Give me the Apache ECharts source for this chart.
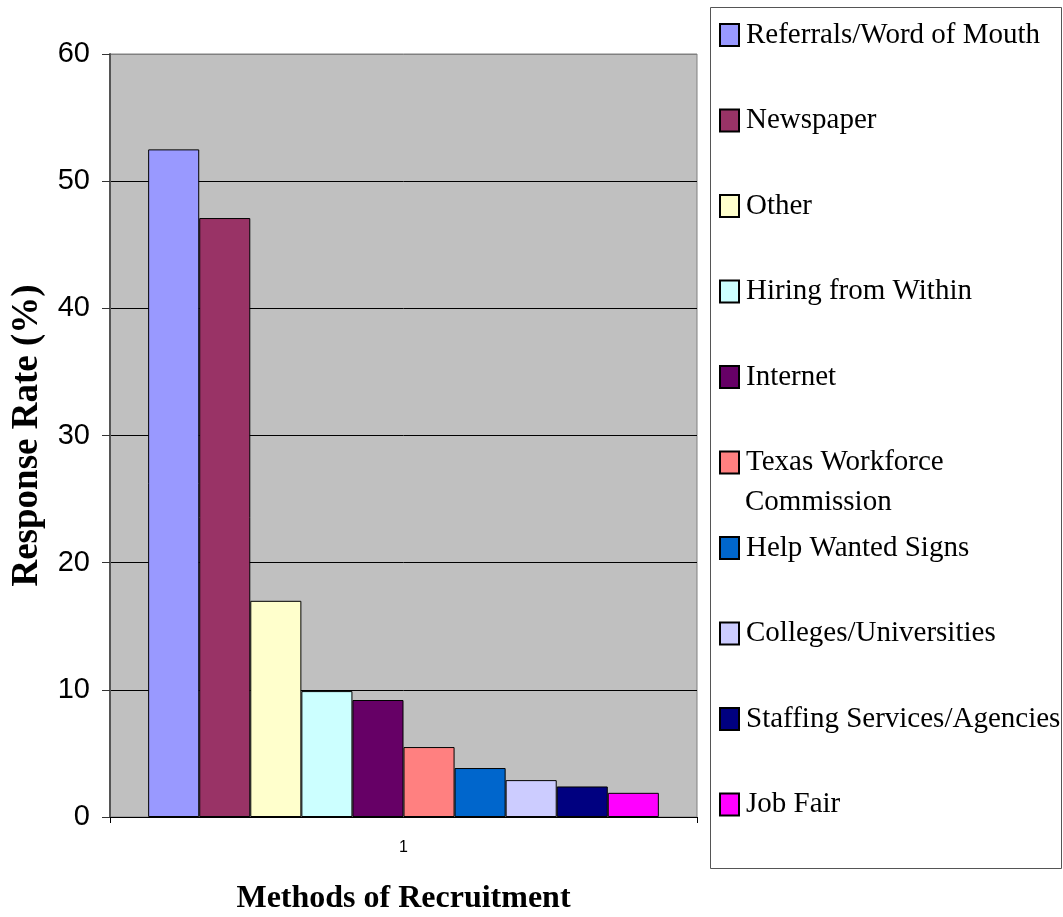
<!DOCTYPE html>
<html>
<head>
<meta charset="utf-8">
<script src="https://cdn.jsdelivr.net/npm/echarts@6/dist/echarts.min.js"></script>
<style>html,body{margin:0;padding:0;background:#fff}#c{width:1063px;height:917px}</style>
</head>
<body>
<div id="c"></div>
<script>
const categories = ['1'];
const seriesNames = ['Referrals/Word of Mouth','Newspaper','Other','Hiring from Within','Internet','Texas Workforce\nCommission','Help Wanted Signs','Colleges/Universities','Staffing Services/Agencies','Job Fair'];
const seriesValues = [52.5, 47.1, 17.0, 9.9, 9.2, 5.5, 3.85, 2.9, 2.4, 1.9];
const seriesColors = ['#9999FF','#993366','#FFFFCC','#CCFFFF','#660066','#FF8080','#0066CC','#CCCCFF','#000080','#FF00FF'];
const yTicks = [0, 10, 20, 30, 40, 50, 60];

const chart = echarts.init(document.getElementById('c'), null, {renderer: 'canvas'});
const series = seriesNames.map((n, i) => ({
  name: n,
  type: 'bar',
  data: [seriesValues[i]],
  barGap: 0,
  barCategoryGap: '13%',
  itemStyle: {color: seriesColors[i], borderColor: '#000', borderWidth: 1},
  emphasis: {disabled: true}
}));

const wrapped = seriesNames.filter(n => n.indexOf('\n') >= 0);
const graphics = [{
  type: 'rect', shape: {x: 710.5, y: 7.5, width: 351, height: 861},
  style: {fill: 'none', stroke: '#555', lineWidth: 1}, z: 0
}];
wrapped.forEach(n => {
  const idx = seriesNames.indexOf(n);
  graphics.push({
    type: 'text', left: 745, top: 20 + idx * 85.5 + 30 + 10,
    style: {text: n.split('\n').slice(1).join(' '), font: '29px "Liberation Serif"', fill: '#000'}
  });
});

chart.setOption({
  animation: false,
  backgroundColor: '#fff',
  grid: {left: 110, right: 366, top: 54, bottom: 100, show: true, outerBoundsMode: 'none', containLabel: false,
    backgroundColor: '#c0c0c0', borderColor: '#808080', borderWidth: 1},
  legend: {
    orient: 'vertical', left: 719, top: 20, itemWidth: 19, itemHeight: 22, itemGap: 55.5,
    icon: 'rect', padding: 0,
    data: seriesNames,
    formatter: n => n.split('\n')[0],
    textStyle: {fontFamily: 'Liberation Serif', fontSize: 29, color: '#000', lineHeight: 30, padding: [0,0,0,2]},
    selectedMode: false
  },
  xAxis: {
    type: 'category', data: categories,
    name: 'Methods of Recruitment', nameLocation: 'middle', nameGap: 66,
    nameTextStyle: {fontFamily: 'Liberation Serif', fontWeight: 'bold', fontSize: 32, color: '#000'},
    axisLine: {lineStyle: {color: '#000', width: 1}},
    axisTick: {show: true, length: 6, lineStyle: {color: '#000'}},
    axisLabel: {fontFamily: 'Liberation Sans', fontSize: 16, color: '#000', margin: 23}
  },
  yAxis: {
    type: 'value', min: 0, max: 60, interval: 10,
    name: 'Response Rate (%)', nameLocation: 'middle', nameGap: 64,
    nameTextStyle: {fontFamily: 'Liberation Serif', fontWeight: 'bold', fontSize: 37, color: '#000'},
    axisLine: {show: true, lineStyle: {color: '#555', width: 2}},
    axisTick: {show: true, length: 8, lineStyle: {color: '#333'}},
    axisLabel: {fontFamily: 'Liberation Sans', fontSize: 29, color: '#000', margin: 20,
      formatter: v => yTicks.indexOf(v) >= 0 ? String(v) : ''},
    splitLine: {show: true, lineStyle: {color: ['#000','#000','#000','#000','#000','#000','#808080'], width: 1}}
  },
  graphic: graphics,
  series: series
});
</script>
</body>
</html>
